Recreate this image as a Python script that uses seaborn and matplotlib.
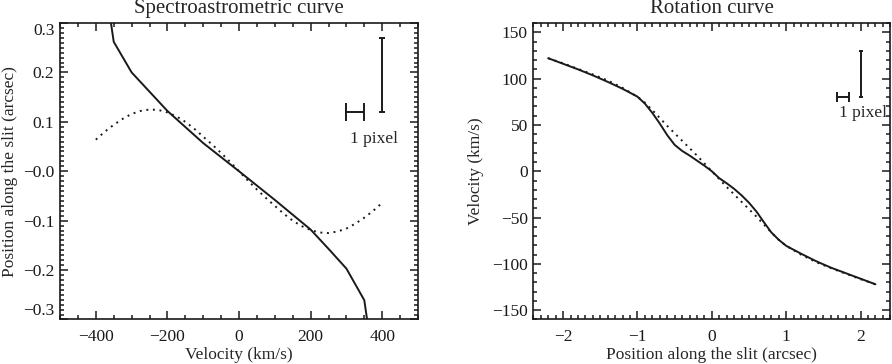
import numpy as np
import matplotlib
matplotlib.use("Agg")
import matplotlib.pyplot as plt
import seaborn as sns
from matplotlib.ticker import MultipleLocator

# --- spectroastrometric curve (left panel) ---
spec_vel = [-362, -350, -300, -250, -200, -100, 0, 100, 200, 250, 300, 350, 362]
spec_pos = [0.321, 0.262, 0.200, 0.161, 0.122, 0.057, 0.0,
            -0.058, -0.118, -0.157, -0.197, -0.261, -0.321]

spec_model_vel = [-400, -375, -350, -325, -300, -275, -250, -225, -200, -175, -150,
                  -125, -100, -75, -50, -25, 0, 25, 50, 75, 100, 125, 150, 175,
                  200, 225, 250, 275, 300, 325, 350, 375, 400]
spec_model_pos = [0.064, 0.080, 0.094, 0.106, 0.116, 0.122, 0.125, 0.124, 0.119, 0.111,
                  0.100, 0.086, 0.070, 0.054, 0.037, 0.019, 0.0, -0.019, -0.037, -0.054,
                  -0.070, -0.086, -0.100, -0.111, -0.119, -0.124, -0.125, -0.122, -0.116,
                  -0.106, -0.094, -0.080, -0.064]

spec_xticks = [-400, -200, 0, 200, 400]
spec_xticklabels = ["\u2212400", "\u2212200", "0", "200", "400"]
spec_yticks = [0.3, 0.2, 0.1, 0.0, -0.1, -0.2, -0.3]
spec_yticklabels = ["0.3", "0.2", "0.1", "\u22120.0", "\u22120.1", "\u22120.2", "\u22120.3"]

# 1 pixel scale bars (left)
spec_pix_x = [300, 350]
spec_pix_y = 0.12
spec_err_x = 400
spec_err_y = [0.12, 0.27]

# --- rotation curve (right panel) ---
rot_pos = [-2.2, -2.0, -1.8, -1.6, -1.4, -1.2, -1.0, -0.9, -0.8, -0.7, -0.6, -0.5, -0.4,
           -0.3, -0.2, -0.1, 0.0, 0.1, 0.2, 0.3, 0.4, 0.5, 0.6, 0.7, 0.8, 0.9, 1.0,
           1.2, 1.4, 1.6, 1.8, 2.0, 2.2]
rot_vel = [122, 116, 110, 103.5, 96.5, 89, 80.5, 73, 63, 51.5, 39, 28.5, 22,
           17, 11.5, 6, 0, -7.5, -13, -19, -26, -34, -43.5, -55, -66, -74, -80.5,
           -89, -97, -104, -110, -116, -122]

rot_model_vel = [122, 116.5, 110.5, 104.5, 98, 90, 80.5, 74, 66, 57.5, 49, 41, 33,
                 25, 17, 8.5, 0, -8.5, -17, -25, -33, -41, -49, -57.5, -66, -74, -80.5,
                 -90, -98, -104.5, -110.5, -116.5, -122]

rot_xticks = [-2, -1, 0, 1, 2]
rot_xticklabels = ["\u22122", "\u22121", "0", "1", "2"]
rot_yticks = [150, 100, 50, 0, -50, -100, -150]
rot_yticklabels = ["150", "100", "50", "0", "\u221250", "\u2212100", "\u2212150"]

# 1 pixel scale bars (right)
rot_pix_x = [1.68, 1.84]
rot_pix_y = 80
rot_err_x = 2.0
rot_err_y = [80, 130]

sns.set_theme(style="ticks")
plt.rcParams["font.family"] = ["Liberation Serif", "DejaVu Serif"]
plt.rcParams["font.size"] = 12.3
plt.rcParams["axes.linewidth"] = 1.2

LW = 1.4
DOTS = (0, (1.0, 2.4))

fig = plt.figure(figsize=(8.92, 3.64), dpi=100)
ax1 = fig.add_axes([0.0673, 0.1223, 0.4013, 0.8145])
ax2 = fig.add_axes([0.5979, 0.1223, 0.4002, 0.8145])


def style_axes(ax, xminor, yminor):
    ax.xaxis.set_minor_locator(MultipleLocator(xminor))
    ax.yaxis.set_minor_locator(MultipleLocator(yminor))
    ax.tick_params(which="both", direction="in", top=True, right=True,
                   colors="k", labelsize=12.5, width=1.1)
    ax.tick_params(which="major", length=5.5)
    ax.tick_params(which="minor", length=3.2)
    ax.tick_params(axis="x", pad=7)
    ax.tick_params(axis="y", pad=4)
    for s in ax.spines.values():
        s.set_color("k")
        s.set_linewidth(1.2)
    ax.set_facecolor("white")


# left panel
sns.lineplot(x=spec_vel, y=spec_pos, ax=ax1, color="k", lw=LW, sort=False)
sns.lineplot(x=spec_model_vel, y=spec_model_pos, ax=ax1, color="k", lw=LW,
             linestyle=DOTS, sort=False)
ax1.errorbar(np.mean(spec_pix_x), spec_pix_y, xerr=np.ptp(spec_pix_x) / 2,
             fmt="none", ecolor="k", elinewidth=LW, capsize=6.5, capthick=LW)
ax1.errorbar(spec_err_x, np.mean(spec_err_y), yerr=np.ptp(spec_err_y) / 2,
             fmt="none", ecolor="k", elinewidth=LW, capsize=2.5, capthick=LW)
ax1.text(378, 0.066, "1 pixel", ha="center", va="center", fontsize=12.5)

ax1.set_xlim(-500, 500)
ax1.set_ylim(-0.3, 0.3)
ax1.set_xticks(spec_xticks)
ax1.set_xticklabels(spec_xticklabels)
ax1.set_yticks(spec_yticks)
ax1.set_yticklabels(spec_yticklabels)
style_axes(ax1, 50, 0.01)
ax1.get_yticklabels()[0].set_va("top")
ax1.get_yticklabels()[-1].set_va("bottom")
ax1.set_xlabel("Velocity (km/s)", labelpad=1, fontsize=12.5)
ax1.set_ylabel("Position along the slit (arcsec)", labelpad=4, fontsize=12.5)
ax1.set_title("Spectroastrometric curve", fontsize=15, pad=7)

# right panel
sns.lineplot(x=rot_pos, y=rot_vel, ax=ax2, color="k", lw=LW, sort=False)
sns.lineplot(x=rot_pos, y=rot_model_vel, ax=ax2, color="k", lw=LW,
             linestyle=DOTS, sort=False)
ax2.errorbar(np.mean(rot_pix_x), rot_pix_y, xerr=np.ptp(rot_pix_x) / 2,
             fmt="none", ecolor="k", elinewidth=LW, capsize=3.6, capthick=LW)
ax2.errorbar(rot_err_x, np.mean(rot_err_y), yerr=np.ptp(rot_err_y) / 2,
             fmt="none", ecolor="k", elinewidth=LW, capsize=1.6, capthick=LW)
ax2.text(2.03, 63, "1 pixel", ha="center", va="center", fontsize=12.5)

ax2.set_xlim(-2.4, 2.4)
ax2.set_ylim(-160, 160)
ax2.set_xticks(rot_xticks)
ax2.set_xticklabels(rot_xticklabels)
ax2.set_yticks(rot_yticks)
ax2.set_yticklabels(rot_yticklabels)
style_axes(ax2, 0.1, 10)
ax2.set_xlabel("Position along the slit (arcsec)", labelpad=1, fontsize=12.5)
ax2.set_ylabel("Velocity (km/s)", labelpad=6, fontsize=12.5)
ax2.set_title("Rotation curve", fontsize=15, pad=7)

fig.savefig("out.png", dpi=100, facecolor="white")
